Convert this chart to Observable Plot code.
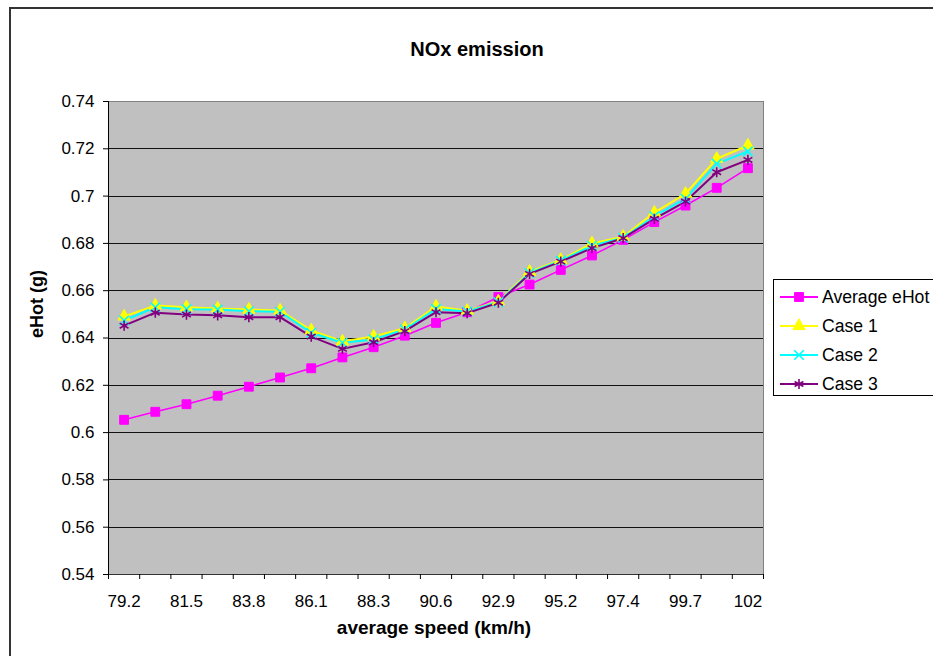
<!DOCTYPE html>
<html>
<head>
<meta charset="utf-8">
<script src="https://cdn.jsdelivr.net/npm/d3@7"></script>
<script src="https://cdn.jsdelivr.net/npm/@observablehq/plot@0.6"></script>
<style>
  html, body { margin: 0; padding: 0; background: #fff; overflow: hidden; }
  #wrap { position: relative; width: 933px; height: 656px; overflow: hidden; font-family: "Liberation Sans", Arial, sans-serif; }
  #outer { position: absolute; left: 9px; top: 7px; width: 1000px; height: 700px; border: 2px solid #333; box-sizing: border-box; pointer-events: none; }
  #legend { position: absolute; left: 773px; top: 279px; width: 200px; height: 117px; border: 1px solid #000; background: #fff; box-sizing: border-box; }
  .row { position: absolute; left: 6px; height: 22px; display: flex; align-items: center; font-size: 17.6px; color: #000; white-space: nowrap; }
  .row svg { margin-right: 4px; }
</style>
</head>
<body>
<div id="wrap"></div>
<script>
// ---- data ----
const categories = ["79.2","80.3","81.5","82.6","83.8","84.9","86.1","87.2","88.3","89.5","90.6","91.7","92.9","94.0","95.2","96.3","97.4","98.6","99.7","100.9","102"];
const averageEHot = [0.6054,0.6088,0.6120,0.6156,0.6194,0.6233,0.6272,0.6318,0.6361,0.6410,0.6464,0.6509,0.6573,0.6626,0.6688,0.6749,0.6815,0.6890,0.6960,0.7035,0.7118];
const case1 = [0.6491,0.6537,0.6530,0.6525,0.6520,0.6516,0.6432,0.6385,0.6406,0.6441,0.6533,0.6515,0.6555,0.6680,0.6730,0.6800,0.6828,0.6930,0.7010,0.7158,0.7214];
const case2 = [0.6474,0.6530,0.6522,0.6520,0.6513,0.6511,0.6422,0.6380,0.6394,0.6436,0.6523,0.6512,0.6552,0.6675,0.6727,0.6790,0.6824,0.6915,0.6989,0.7137,0.7189];
const case3 = [0.6452,0.6507,0.6499,0.6496,0.6488,0.6488,0.6406,0.6354,0.6382,0.6429,0.6509,0.6505,0.6549,0.6671,0.6723,0.6780,0.6822,0.6904,0.6977,0.7101,0.7153];
const yTicks = [0.54,0.56,0.58,0.60,0.62,0.64,0.66,0.68,0.70,0.72,0.74];
const xLabelIndices = [0,2,4,6,8,10,12,14,16,18,20];
const seriesNames = ["Average eHot","Case 1","Case 2","Case 3"];
const title = "NOx emission";
const xTitle = "average speed (km/h)";
const yTitle = "eHot (g)";

// ---- styles ----
const series = [
  {name: seriesNames[0], values: averageEHot, color: "#FF00FF", symbol: "square", r: 5, fill: true, sw: 1.6},
  {name: seriesNames[1], values: case1, color: "#FFFF00", symbol: "triangle", r: 4.6, fill: true, sw: 2},
  {name: seriesNames[2], values: case2, color: "#00FFFF", symbol: "times", r: 4.4, fill: false, sw: 2},
  {name: seriesNames[3], values: case3, color: "#800080", symbol: "asterisk", r: 4.8, fill: false, sw: 2}
];
const xDomain = [-0.5, categories.length - 0.5];
const yDomain = [yTicks[0], yTicks[yTicks.length - 1]];
const boundaries = d3.range(categories.length + 1).map(i => i - 0.5);
const fmt = d => String(+d.toFixed(2));

const marks = [
  Plot.frame({fill: "#C0C0C0", stroke: "#808080"}),
  Plot.ruleY(yTicks.filter(d => d < yDomain[1]), {stroke: "#111", strokeWidth: 1, shapeRendering: "crispEdges"}),
  Plot.ruleY([yDomain[1]], {stroke: "#808080", strokeWidth: 1, shapeRendering: "crispEdges"}),
  Plot.ruleX([xDomain[0]], {stroke: "#000", strokeWidth: 1.2, shapeRendering: "crispEdges"}),
  Plot.ruleY([yDomain[0]], {stroke: "#333", strokeWidth: 1.2, shapeRendering: "crispEdges"}),
  Plot.axisY({ticks: yTicks, tickFormat: fmt, tickSize: 5, tickPadding: 9, label: null, fontSize: 17}),
  Plot.axisX({ticks: boundaries, tickFormat: () => "", tickSize: 5, label: null}),
  Plot.axisX({ticks: xLabelIndices, tickFormat: i => categories[i], tickSize: 0, tickPadding: 20, label: null, fontSize: 17}),
];
for (const s of series) {
  marks.push(Plot.line(s.values, {x: (d, i) => i, y: d => d, stroke: s.color, strokeWidth: s.sw}));
}
for (const s of series) {
  marks.push(Plot.dot(s.values, {
    x: (d, i) => i, y: d => d, symbol: s.symbol, r: s.r,
    fill: s.fill ? s.color : "none", stroke: s.color, strokeWidth: s.fill ? 1 : 1.6
  }));
}
marks.push(
  Plot.text([title], {frameAnchor: "top", dx: 41, dy: -60, fontSize: 20, fontWeight: "bold", text: d => d}),
  Plot.text([xTitle], {frameAnchor: "bottom", dx: -2, dy: 59, fontSize: 19, fontWeight: "bold", text: d => d}),
  Plot.text([yTitle], {frameAnchor: "left", dx: -71, rotate: -90, fontSize: 18, fontWeight: "bold", text: d => d})
);

const chart = Plot.plot({
  width: 933,
  height: 656,
  marginLeft: 108,
  marginRight: 170,
  marginTop: 101,
  marginBottom: 82,
  style: {fontFamily: "'Liberation Sans', Arial, sans-serif", fontSize: "17px", color: "#000", background: "transparent"},
  x: {type: "linear", domain: xDomain},
  y: {type: "linear", domain: yDomain},
  marks
});

const wrap = document.getElementById("wrap");
wrap.appendChild(chart);

const outer = document.createElement("div");
outer.id = "outer";
wrap.appendChild(outer);

// legend
const legend = document.createElement("div");
legend.id = "legend";
series.forEach((s, k) => {
  const row = document.createElement("div");
  row.className = "row";
  row.style.top = (6 + k * 29) + "px";
  const svg = d3.create("svg").attr("width", 38).attr("height", 20);
  svg.append("line").attr("x1", 0).attr("x2", 38).attr("y1", 10).attr("y2", 10)
    .attr("stroke", s.color).attr("stroke-width", 2);
  const symMap = {square: d3.symbolSquare, triangle: d3.symbolTriangle, times: d3.symbolTimes, asterisk: d3.symbolAsterisk};
  svg.append("path").attr("transform", "translate(19,10)")
    .attr("d", d3.symbol(symMap[s.symbol], Math.PI * s.r * s.r)())
    .attr("fill", s.fill ? s.color : "none").attr("stroke", s.color).attr("stroke-width", s.fill ? 1 : 1.6);
  row.appendChild(svg.node());
  const t = document.createElement("span");
  t.textContent = s.name;
  row.appendChild(t);
  legend.appendChild(row);
});
wrap.appendChild(legend);
</script>
</body>
</html>
